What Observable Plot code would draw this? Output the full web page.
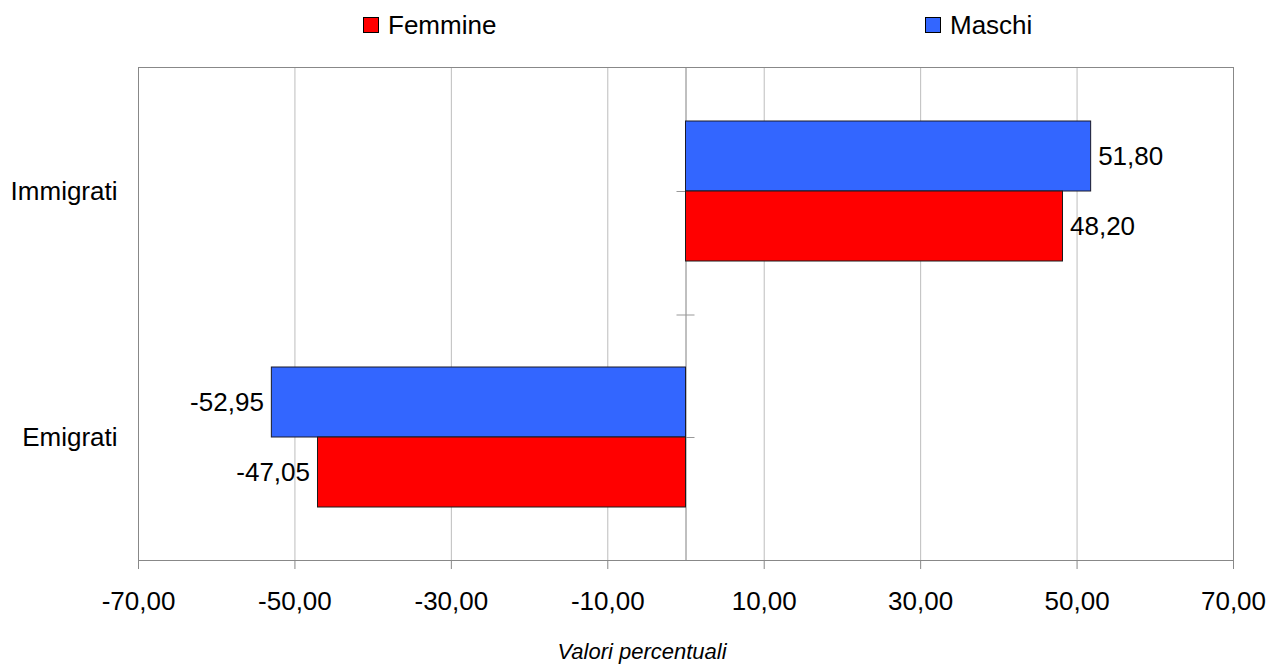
<!DOCTYPE html>
<html><head><meta charset="utf-8">
<script src="https://cdn.jsdelivr.net/npm/d3@7"></script>
<script src="https://cdn.jsdelivr.net/npm/@observablehq/plot@0.6"></script>
<style>
body{margin:0;background:#fff;font-family:"Liberation Sans",Arial,sans-serif;}
#legend{position:relative;height:50px;width:1279px;}
.item{position:absolute;top:8px;display:flex;align-items:center;font-size:26px;line-height:34px;color:#000;}
.sw{width:14px;height:14px;border:1px solid #000;margin-right:9px;}
svg{display:block;}
</style></head><body>
<div id="legend"></div><div id="chart"></div>
<script>
const categories = ["Immigrati", "Emigrati"];
const seriesNames = ["Femmine", "Maschi"];
const femmine = [48.20, -47.05];
const maschi = [51.80, -52.95];
const xTicks = [-70, -50, -30, -10, 10, 30, 50, 70];
const axisTitle = "Valori percentuali";
const colors = {Femmine: "#ff0000", Maschi: "#3366ff"};

// legend
const legendLeft = {Femmine: 363, Maschi: 925};
const legend = document.getElementById("legend");
for (const s of seriesNames) {
  const it = document.createElement("div");
  it.className = "item";
  it.style.left = legendLeft[s] + "px";
  it.innerHTML = `<span class="sw" style="background:${colors[s]}"></span><span>${s}</span>`;
  legend.appendChild(it);
}

const data = categories.flatMap((c, i) => [
  {cat: c, sex: "Maschi", v: maschi[i]},
  {cat: c, sex: "Femmine", v: femmine[i]}
]);
const locale = d3.formatLocale({decimal: ",", thousands: ".", grouping: [3], currency: ["", " €"], minus: "-"});
const fmt = locale.format(".2f");
const half = 70;
const font = '"Liberation Sans", Arial, sans-serif';

const labelMarks = [];
for (const s of seriesNames) {
  for (const pos of [true, false]) {
    labelMarks.push(Plot.text(data.filter(d => d.sex === s && (d.v >= 0) === pos), {
      x: "v", y: "cat", text: d => fmt(d.v),
      textAnchor: pos ? "start" : "end",
      dx: pos ? 7 : -8,
      dy: s === "Maschi" ? -35 : 35,
      fontSize: 26, fill: "#000"
    }));
  }
}

const chart = Plot.plot({
  width: 1279, height: 616,
  marginTop: 17, marginBottom: 106, marginLeft: 138, marginRight: 46,
  style: {fontFamily: font, fontSize: "26px", color: "#000", background: "#fff"},
  x: {domain: [-70, 70]},
  y: {domain: categories, paddingInner: 0.432, paddingOuter: 0.216},
  marks: [
    Plot.gridX(xTicks, {stroke: "#bdbdbd", strokeOpacity: 1}),
    Plot.ruleX([0], {stroke: "#808080"}),
    Plot.ruleY(categories, {y: d => d, x1: 0, x2: 0, insetLeft: -9, insetRight: -9, stroke: "#999"}),
    Plot.ruleY(categories.slice(0, 1), {y: d => d, x1: 0, x2: 0, insetLeft: -9, insetRight: -9, dy: 123.5, stroke: "#999"}),
    Plot.barX(data.filter(d => d.sex === "Maschi"), {x: "v", y: "cat", fill: colors.Maschi, stroke: "#1a1a2a", strokeWidth: 1, insetBottom: half}),
    Plot.barX(data.filter(d => d.sex === "Femmine"), {x: "v", y: "cat", fill: colors.Femmine, stroke: "#1a1a1a", strokeWidth: 1, insetTop: half}),
    Plot.frame({stroke: "#888"}),
    Plot.axisX({ticks: xTicks, tickFormat: fmt, tickSize: 9, tickPadding: 22, fontSize: 26, stroke: "#888", label: null}),
    Plot.axisY({tickSize: 0, tickPadding: 21, fontSize: 26, label: null}),
    ...labelMarks,
    Plot.text([axisTitle], {text: d => d, frameAnchor: "bottom", dx: -44, dy: 98, lineAnchor: "bottom", fontStyle: "italic", fontSize: 22, fill: "#000"})
  ]
});
document.getElementById("chart").appendChild(chart);
</script>
</body></html>
